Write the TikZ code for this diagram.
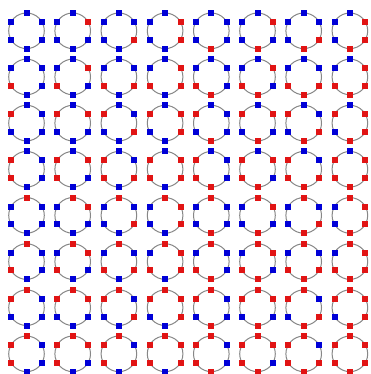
\documentclass[tikz,border=0pt]{standalone}
\usepackage{tikz}
\usetikzlibrary{calc}
\definecolor{bitblue}{RGB}{0,0,215}
\definecolor{bitred}{RGB}{225,20,20}
\definecolor{ringgray}{RGB}{135,135,135}
\tikzset{
  ring/.style={draw=ringgray, line width=1pt},
  bitsq/.style={rectangle, inner sep=0pt, minimum size=6pt, draw=none},
}
\begin{document}
\begin{tikzpicture}[x=1pt,y=-1pt]
\fill[white] (0,0) rectangle (370,374);
\useasboundingbox (0,0) rectangle (370,374);
\foreach \r in {0,...,7} {
  \foreach \c in {0,...,7} {
    \pgfmathsetmacro\cx{26.5+46.2*\c}
    \pgfmathsetmacro\cy{30.8+46.15*\r}
    \pgfmathtruncatemacro\n{\r*8+\c}
    \coordinate (c-\r-\c) at (\cx,\cy);
    \draw[ring] (c-\r-\c) circle (17.8);
    \foreach \k/\dx/\dy in {0/15.4/-8.9, 1/15.4/8.9, 2/0/17.8, 3/-15.4/8.9, 4/-15.4/-8.9, 5/0/-17.8} {
      \pgfmathtruncatemacro\b{mod(floor(\n/(2^\k)),2)}
      \ifnum\b=1
        \node[bitsq, fill=bitred] (s-\r-\c-\k) at ($(c-\r-\c)+(\dx,\dy)$) {};
      \else
        \node[bitsq, fill=bitblue] (s-\r-\c-\k) at ($(c-\r-\c)+(\dx,\dy)$) {};
      \fi
    }
  }
}
\end{tikzpicture}
\end{document}
